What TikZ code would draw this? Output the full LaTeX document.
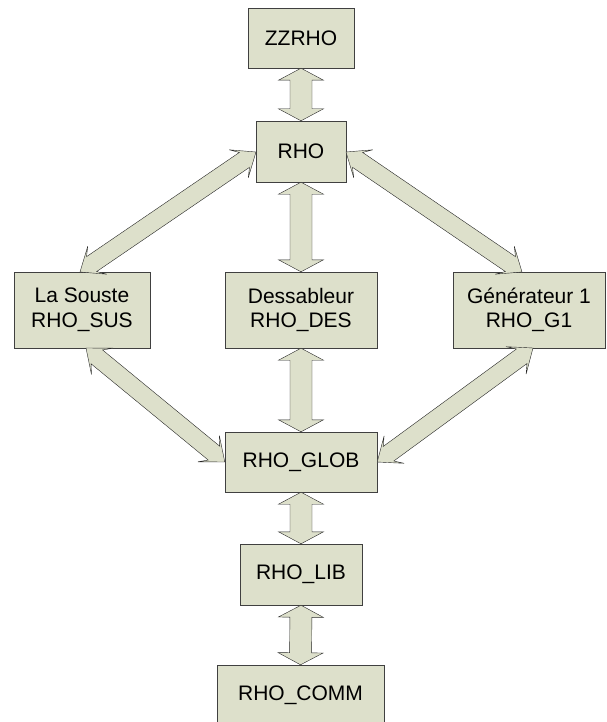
\documentclass[tikz,border=0pt]{standalone}
\usepackage{fontspec}
\setmainfont{Liberation Sans}
\usetikzlibrary{calc}

\definecolor{boxfill}{RGB}{221,224,203}

\tikzset{
  box/.style={rectangle,draw=black!75,fill=boxfill,align=center,inner sep=0pt,
    font=\fontsize{21}{24.5}\selectfont},
  % fat two-headed arrow: shaft half width, head half width, head length, neck
  blockarrow/.style n args={4}{draw=black!85,fill=boxfill,line join=miter,
    to path={
      -- ($(\tikztostart)!#3!(\tikztotarget)!#2!90:(\tikztotarget)$)
      -- ($(\tikztostart)!#4!(\tikztotarget)!#1!90:(\tikztotarget)$)
      -- ($(\tikztotarget)!#4!(\tikztostart)!#1!-90:(\tikztostart)$)
      -- ($(\tikztotarget)!#3!(\tikztostart)!#2!-90:(\tikztostart)$)
      -- (\tikztotarget)
      -- ($(\tikztotarget)!#3!(\tikztostart)!#2!90:(\tikztostart)$)
      -- ($(\tikztotarget)!#4!(\tikztostart)!#1!90:(\tikztostart)$)
      -- ($(\tikztostart)!#4!(\tikztotarget)!#1!-90:(\tikztotarget)$)
      -- ($(\tikztostart)!#3!(\tikztotarget)!#2!-90:(\tikztotarget)$)
      -- cycle}},
  vlink/.style={blockarrow={11pt}{22.5pt}{12pt}{12pt}},
  dlink/.style={blockarrow={9pt}{17pt}{21pt}{14pt}}
}

\begin{document}
\begin{tikzpicture}[x=1pt,y=-1pt]
\useasboundingbox (0,0) rectangle (607,722);

\node[box,minimum width=106pt,minimum height=60pt] (zzrho) at (301,38) {ZZRHO};
\node[box,minimum width=90pt,minimum height=61pt] (rho) at (301,151.5) {RHO};
\node[box,minimum width=136pt,minimum height=76pt] (sus) at (82,310) {La Souste\\RHO\_SUS};
\node[box,minimum width=152pt,minimum height=76pt] (des) at (301,310) {Dessableur\\RHO\_DES};
\node[box,minimum width=152pt,minimum height=76pt] (g1) at (529,310) {Générateur 1\\RHO\_G1};
\node[box,minimum width=152pt,minimum height=60pt] (glob) at (301,462) {RHO\_GLOB};
\node[box,minimum width=122pt,minimum height=61pt] (lib) at (301,574.5) {RHO\_LIB};
\node[box,minimum width=167pt,minimum height=60pt] (comm) at (300.5,695) {RHO\_COMM};

\coordinate (rhoL) at (256,152);
\coordinate (rhoR) at (346,152);
\coordinate (susT) at (80,272);
\coordinate (g1T) at (522,272);
\coordinate (susB) at (86,348);
\coordinate (g1B) at (533,348);

\draw[vlink] (zzrho.south) to (rho.north);
\draw[vlink] (rho.south) to (des.north);
\draw[vlink] (des.south) to (glob.north);
\draw[vlink] (glob.south) to (lib.north);
\draw[vlink] (lib.south) to (comm.north);

\draw[dlink] (rhoL) to (susT);
\draw[dlink] (rhoR) to (g1T);
\draw[dlink] (susB) to (glob.west);
\draw[dlink] (g1B) to (glob.east);
\end{tikzpicture}
\end{document}
